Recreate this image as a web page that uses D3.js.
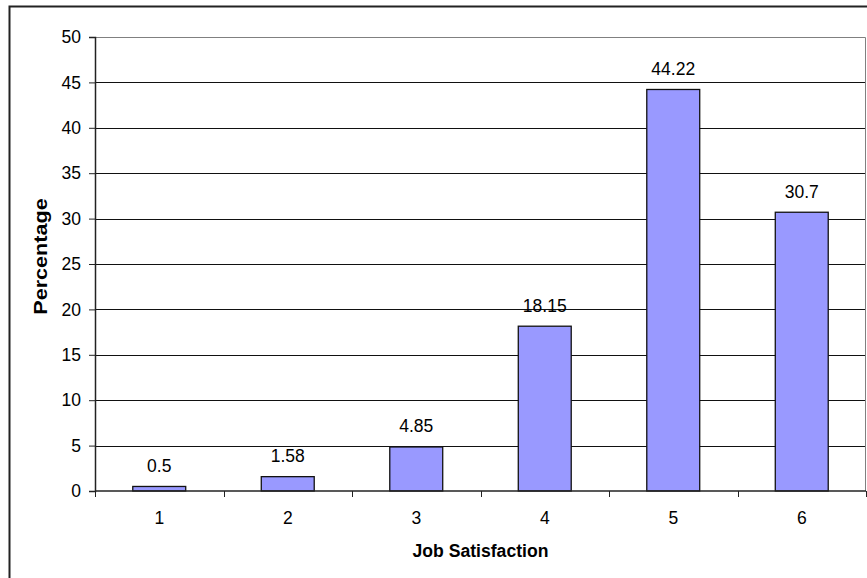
<!DOCTYPE html>
<html>
<head>
<meta charset="utf-8">
<script src="https://cdn.jsdelivr.net/npm/d3@7/dist/d3.min.js"></script>
<style>
  html, body { margin: 0; padding: 0; background: #fff; }
  svg { display: block; font-family: "Liberation Sans", Arial, sans-serif; }
</style>
</head>
<body>
<svg id="chart" width="867" height="578"></svg>
<script>
// Distribution of job satisfaction scores (percent of respondents)
const categories = ["1", "2", "3", "4", "5", "6"];
const percentages = [0.5, 1.58, 4.85, 18.15, 44.22, 30.7];
const yTicks = [0, 5, 10, 15, 20, 25, 30, 35, 40, 45, 50];

const svg = d3.select("#chart");
const plot = { left: 95, right: 866, top: 37, bottom: 491 };

// outer chart frame (only the top and left edges fall inside the page)
svg.append("rect")
  .attr("x", 9.5).attr("y", 6.5)
  .attr("width", 900).attr("height", 600)
  .attr("fill", "none").attr("stroke", "#222").attr("stroke-width", 2);

const x = d3.scaleBand().domain(categories).range([plot.left, plot.right]).padding(0);
const y = d3.scaleLinear().domain([0, 50]).range([plot.bottom, plot.top]);

// horizontal gridlines
svg.append("g").selectAll("line")
  .data(yTicks.filter(t => t > 0 && t < 50))
  .join("line")
  .attr("x1", plot.left).attr("x2", plot.right)
  .attr("y1", d => Math.round(y(d)) + 0.5).attr("y2", d => Math.round(y(d)) + 0.5)
  .attr("stroke", "#111").attr("stroke-width", 1);

// plot area border
svg.append("path")
  .attr("d", `M${plot.left},${plot.top + 0.5}H${plot.right - 0.5}V${plot.bottom}`)
  .attr("fill", "none").attr("stroke", "#808080").attr("stroke-width", 1);

// bars
const barW = x.bandwidth() * 0.412;
svg.append("g").selectAll("rect")
  .data(percentages)
  .join("rect")
  .attr("x", (d, i) => x(categories[i]) + (x.bandwidth() - barW) / 2)
  .attr("y", d => y(d))
  .attr("width", barW)
  .attr("height", d => y(0) - y(d))
  .attr("fill", "#9999ff")
  .attr("stroke", "#111").attr("stroke-width", 1.3);

// value labels
svg.append("g").selectAll("text")
  .data(percentages)
  .join("text")
  .attr("x", (d, i) => x(categories[i]) + x.bandwidth() / 2)
  .attr("y", d => y(d) - 14.5)
  .attr("text-anchor", "middle")
  .attr("font-size", 17.5)
  .attr("fill", "#000")
  .text(d => d);

// y axis
const yAxis = svg.append("g")
  .attr("transform", `translate(${plot.left},0)`)
  .call(d3.axisLeft(y).tickValues(yTicks).tickSize(6).tickPadding(8).tickFormat(d3.format("d")));
yAxis.select(".domain").attr("stroke", "#222").attr("stroke-width", 1.5);
yAxis.selectAll(".tick line").attr("stroke", "#222");
yAxis.selectAll(".tick text").attr("font-size", 17.5).attr("fill", "#000")
  .attr("font-family", "Liberation Sans, Arial, sans-serif");

// x axis: ticks sit on the category boundaries
const xAxisG = svg.append("g").attr("transform", `translate(0,${plot.bottom})`);
xAxisG.append("line")
  .attr("x1", plot.left).attr("x2", plot.right)
  .attr("stroke", "#222").attr("stroke-width", 1.5);
xAxisG.selectAll("line.tick")
  .data(categories.concat(["end"]))
  .join("line")
  .attr("class", "tick")
  .attr("x1", (d, i) => Math.round(plot.left + i * x.step()) + 0.5)
  .attr("x2", (d, i) => Math.round(plot.left + i * x.step()) + 0.5)
  .attr("y1", 0).attr("y2", 6)
  .attr("stroke", "#222");
xAxisG.selectAll("text")
  .data(categories)
  .join("text")
  .attr("x", d => x(d) + x.bandwidth() / 2)
  .attr("y", 33)
  .attr("text-anchor", "middle")
  .attr("font-size", 17.5)
  .text(d => d);

// axis titles
svg.append("text")
  .attr("x", (plot.left + plot.right) / 2)
  .attr("y", 557)
  .attr("text-anchor", "middle")
  .attr("font-size", 17.6)
  .attr("font-weight", "bold")
  .text("Job Satisfaction");

svg.append("text")
  .attr("transform", "translate(46.5,256.5) rotate(-90) scale(1.2,1)")
  .attr("text-anchor", "middle")
  .attr("font-size", 18)
  .attr("font-weight", "bold")
  .text("Percentage");
</script>
</body>
</html>
